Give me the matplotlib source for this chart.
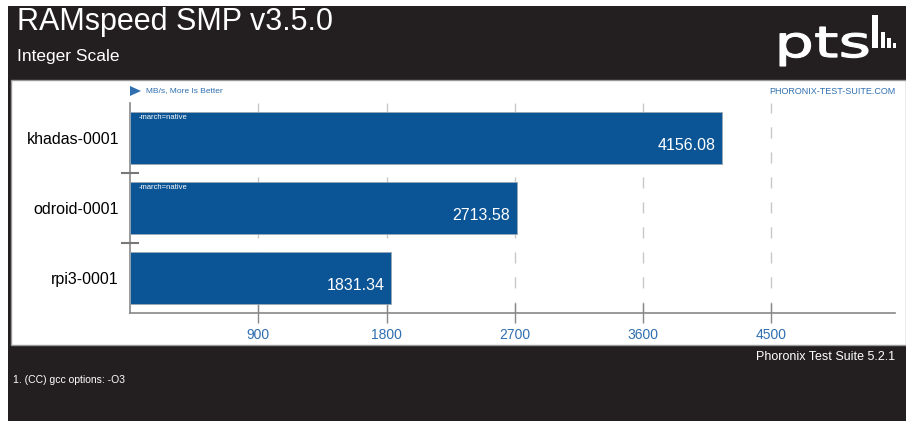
import matplotlib
matplotlib.use("Agg")
import matplotlib.pyplot as plt
from matplotlib.patches import Rectangle, Polygon, PathPatch
from matplotlib.textpath import TextPath
from matplotlib.font_manager import FontProperties
from matplotlib.transforms import Affine2D

categories = ["khadas-0001", "odroid-0001", "rpi3-0001"]
values = [4156.08, 2713.58, 1831.34]
value_labels = ["4156.08", "2713.58", "1831.34"]
notes = ["-march=native", "-march=native", ""]
xticks = [900, 1800, 2700, 3600, 4500]
title = "RAMspeed SMP v3.5.0"
subtitle = "Integer Scale"
unit_label = "MB/s, More Is Better"
site_label = "PHORONIX-TEST-SUITE.COM"
version_label = "Phoronix Test Suite 5.2.1"
footnote = "1. (CC) gcc options: -O3"

W, H = 906, 421
FONT = ["Liberation Sans", "DejaVu Sans"]
plt.rcParams["font.family"] = FONT

DARK = "#231f20"
BAR = "#0b5495"
BLUE = "#2f6fb0"

fig = plt.figure(figsize=(W / 100, H / 100), dpi=100)
fig.patch.set_facecolor("white")

def fx(px):
    return px / W

def fy(py):
    return 1 - py / H

pix = Affine2D().scale(1 / W, -1 / H).translate(0, 1) + fig.transFigure

# dark background block
fig.patches.append(Rectangle((fx(8), 0), 1 - fx(8), fy(6), transform=fig.transFigure,
                             facecolor=DARK, edgecolor="none", zorder=0))
# white panel
fig.patches.append(Rectangle((fx(11), fy(345)), 1 - fx(11), fy(80) - fy(345),
                             transform=fig.transFigure, facecolor="white",
                             edgecolor="#999999", linewidth=1.0, zorder=1))

# header texts
fig.text(fx(17), fy(22), title, color="white", fontsize=22, va="center", ha="left")
fig.text(fx(17), fy(56), subtitle, color="white", fontsize=12.5, va="center", ha="left")

# logo
tp = TextPath((0, 0), "pts", size=1, prop=FontProperties(family="DejaVu Sans", weight="normal"))
bb = tp.get_extents()
sx = 88 / bb.width
sy = 39 / (bb.y1 - bb.y0)
logo_tr = Affine2D().scale(sx, -sy).translate(780 - bb.x0 * sx, 66 + bb.y0 * sy) + pix
fig.patches.append(PathPatch(tp, transform=logo_tr, facecolor="white", edgecolor="white",
                             linewidth=0.8, zorder=3))
for x0, w, ytop in [(872, 6, 15), (881, 4, 32), (887, 4, 38), (893, 3, 43)]:
    fig.patches.append(Rectangle((x0, 48), w, ytop - 48, transform=pix,
                                 facecolor="white", edgecolor="none", zorder=3))

# footer
fig.text(fx(895), fy(357), version_label, color="white", fontsize=9, ha="right", va="center")
fig.text(fx(13), fy(380), footnote, color="white", fontsize=7.5, ha="left", va="center")

# axes
left, right, top, bottom = 130, 895, 103, 313
ax = fig.add_axes([fx(left), fy(bottom), fx(right) - fx(left), fy(top) - fy(bottom)])
ax.set_facecolor("none")
ax.set_zorder(5)
n = len(categories)
ypos = list(range(n))
ax.barh(ypos, values, height=0.75, color=BAR, edgecolor="#9aa7b3", linewidth=0.6, zorder=3)
ax.set_xlim(0, 5368)
ax.set_ylim(n - 0.5, -0.5)

for x in xticks:
    ax.axvline(x, color="#c8c8c8", linewidth=1, linestyle=(0, (8, 10)), zorder=1)

for i, (v, lab, note) in enumerate(zip(values, value_labels, notes)):
    ax.text(v - 45, i + 0.1, lab, color="white", fontsize=11.5, ha="right", va="center", zorder=4)
    if note:
        ax.text(60, i - 0.3, note, color="white", fontsize=5.5, ha="left", va="center", zorder=4)

ax.set_xticks(xticks)
ax.set_xticklabels([str(t) for t in xticks], color=BLUE, fontsize=10)
ax.tick_params(axis="x", direction="inout", length=14, color="#888888", width=1, pad=4)
ax.set_yticks(ypos)
ax.set_yticklabels(categories, fontsize=11.5, color="black")
ax.tick_params(axis="y", length=0, pad=8)
for sp in ["top", "right"]:
    ax.spines[sp].set_visible(False)
ax.spines["left"].set_color("#888888")
ax.spines["bottom"].set_color("#888888")
ax.spines["left"].set_linewidth(1.2)
ax.spines["bottom"].set_linewidth(1.2)

# category separators on left
for k in range(1, n):
    ax.plot([-0.011, 0.011], [k - 0.5, k - 0.5], transform=ax.get_yaxis_transform(),
            color="#777777", linewidth=1.5, clip_on=False, zorder=6)

# top labels
tri = Polygon([[fx(130), fy(86)], [fx(130), fy(96)], [fx(141), fy(91)]], closed=True,
              transform=fig.transFigure, facecolor=BLUE, edgecolor="none", zorder=6)
fig.patches.append(tri)
fig.text(fx(146), fy(91), unit_label, color=BLUE, fontsize=6, ha="left", va="center")
fig.text(fx(895), fy(91), site_label, color=BLUE, fontsize=6.5, ha="right", va="center")

fig.savefig("out.png", dpi=100, facecolor=fig.get_facecolor())
